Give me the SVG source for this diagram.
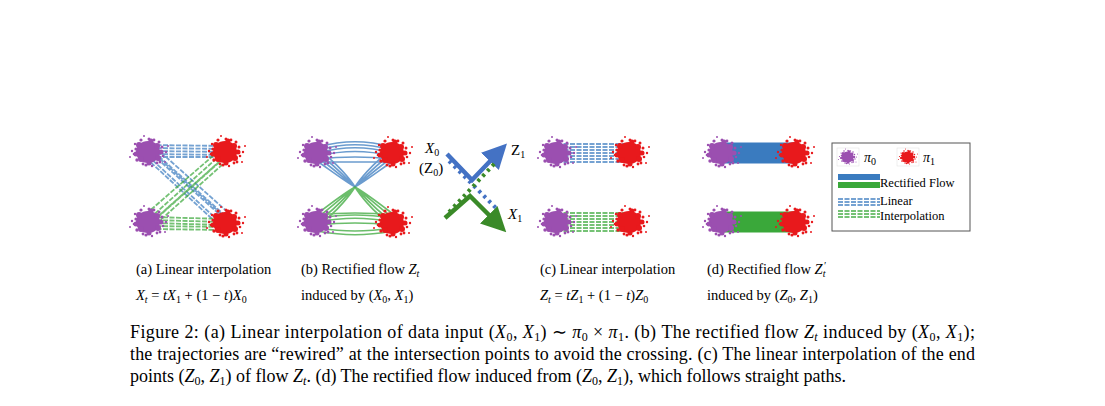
<svg xmlns="http://www.w3.org/2000/svg" width="1105" height="406" viewBox="0 0 1105 406">
<style>
text{font-family:"Liberation Serif","Times New Roman",serif;fill:#000}
.cap{font-size:14.5px}
.fig{font-size:18px}
.b{stroke:#3a7bbf;fill:none}
.g{stroke:#3aa83a;fill:none}
.bd{stroke:#3a7bbf;fill:none;stroke-dasharray:5 1.5;stroke-width:1.8;opacity:.7}
.gd{stroke:#3aa83a;fill:none;stroke-dasharray:5 1.5;stroke-width:1.8;opacity:.7}
</style>
<defs>
<g id="dots">
<ellipse cx="-1" cy="0" rx="12" ry="11"/>
<circle cx="-13" cy="-3" r="1.6"/><circle cx="-15" cy="2" r="1.3"/><circle cx="13" cy="-5" r="1.5"/><circle cx="14" cy="4" r="1.3"/>
<circle cx="-8" cy="-12" r="1.6"/><circle cx="5" cy="-12" r="1.4"/><circle cx="-3" cy="13" r="1.6"/><circle cx="8" cy="11" r="1.4"/>
<circle cx="-12" cy="8" r="1.7"/><circle cx="11" cy="10" r="1.4"/><circle cx="-17" cy="-1" r="1.2"/><circle cx="17" cy="0" r="1.2"/>
<circle cx="0" cy="-13" r="1.5"/><circle cx="-6" cy="12" r="1.4"/><circle cx="3" cy="14" r="1.2"/><circle cx="-14" cy="-8" r="1.2"/>
<circle cx="10" cy="-10" r="1.5"/><circle cx="-10" cy="-7" r="3"/><circle cx="9" cy="6" r="3"/><circle cx="-8" cy="7" r="3"/><circle cx="8" cy="-6" r="3"/>
<circle cx="12" cy="0" r="2.5"/><circle cx="-13" cy="2" r="2.5"/><circle cx="0" cy="11" r="2.5"/><circle cx="2" cy="-11" r="2.5"/>
<circle cx="-19" cy="5" r="1"/><circle cx="19" cy="-6" r="1"/><circle cx="16" cy="10" r="1"/><circle cx="-5" cy="-16" r="1"/>
</g>
<g id="p"><use href="#dots" fill="#9b4fb0"/></g>
<g id="r"><use href="#dots" fill="#e8191c"/></g>
<marker id="ab" viewBox="0 0 10 10" refX="3" refY="5" markerWidth="5.5" markerHeight="5.5" orient="auto"><path d="M0,0L10,5L0,10z" fill="#4472c4"/></marker>
<marker id="ag" viewBox="0 0 10 10" refX="3" refY="5" markerWidth="5.5" markerHeight="5.5" orient="auto"><path d="M0,0L10,5L0,10z" fill="#3a8a28"/></marker>
</defs>

<g id="connectors">
<g class="bd">
<path d="M150,145L226,146M150,148L226,149M150,151L226,152M150,154L226,155M150,157L226,157"/>
<path d="M150,150L226,218M152,154L228,222M148,156L224,226M154,152L230,220M146,158L222,228M156,148L232,216"/>
</g>
<g class="gd">
<path d="M150,218L226,150M152,222L228,154M148,226L224,158M154,220L230,152M146,214L222,148M156,224L232,156"/>
<path d="M150,217L226,219M150,220L226,222M150,223L226,225M150,226L226,227M150,229L226,230"/>
</g>
<g class="b" stroke-width="1.6" opacity="0.75">
<path d="M317,147C345,140 365,140 393,147M317,150C345,143 365,143 393,150M317,153C345,146 365,146 393,153M317,156C345,150 365,150 393,156M317,159C345,156 365,156 393,159M317,162C345,162 365,162 393,162"/>
<path d="M317,153C335,165 350,182 355,187C360,182 375,165 393,153M317,157C333,168 348,182 355,187C362,182 377,168 393,157M317,149C338,163 352,182 355,187C358,182 372,163 393,149M317,161C330,170 346,182 355,187C364,182 380,170 393,161"/>
</g>
<g class="g" stroke-width="1.6" opacity="0.75">
<path d="M317,215C345,212 365,212 393,215M317,218C345,214 365,214 393,218M317,222C345,217 365,217 393,222M317,225C345,222 365,222 393,225M317,228C345,232 365,232 393,228M317,231C345,236 365,236 393,231"/>
<path d="M317,222C335,210 350,192 355,187C360,192 375,210 393,222M317,218C333,206 348,192 355,187C362,192 377,206 393,218M317,226C338,212 352,192 355,187C358,192 372,212 393,226M317,214C330,204 346,192 355,187C364,192 380,204 393,214"/>
</g>
<g class="bd"><path d="M557,144H630M557,147H630M557,150H630M557,153H630M557,156H630M557,159H630M557,162H630"/></g>
<g class="gd"><path d="M557,213H630M557,216H630M557,219H630M557,222H630M557,225H630M557,228H630M557,231H630"/></g>
<g class="b" stroke-width="3"><path d="M722,144H795M722,147H795M722,150H795M722,153H795M722,156H795M722,159H795M722,162H795"/></g>
<g class="g" stroke-width="3"><path d="M722,213H795M722,216H795M722,219H795M722,222H795M722,225H795M722,228H795M722,231H795"/></g>
<path d="M447,154L472,180L495,156" stroke="#4472c4" stroke-width="4.5" fill="none" marker-end="url(#ab)"/>
<path d="M445,218L470,196L494,220" stroke="#3a8a28" stroke-width="4.5" fill="none" marker-end="url(#ag)"/>
<path d="M449,161L498,210" stroke="#4472c4" stroke-width="4" stroke-dasharray="3 4" fill="none"/>
<path d="M449,212L496,162" stroke="#3a8a28" stroke-width="4" stroke-dasharray="3 4" fill="none"/>
</g>

<g id="clouds">
<use href="#p" x="149" y="152"/><use href="#r" x="226" y="152"/><use href="#p" x="149" y="222"/><use href="#r" x="226" y="223"/>
<use href="#p" x="317" y="153"/><use href="#r" x="393" y="153"/><use href="#p" x="317" y="222"/><use href="#r" x="393" y="223"/>
<use href="#p" x="557" y="153"/><use href="#r" x="630" y="153"/><use href="#p" x="557" y="222"/><use href="#r" x="630" y="222"/>
<use href="#p" x="722" y="153"/><use href="#r" x="795" y="153"/><use href="#p" x="722" y="222"/><use href="#r" x="795" y="222"/>
</g>

<g id="cross-labels" font-size="15">
<text x="425" y="153" font-style="italic">X<tspan font-size="10" dy="3" font-style="normal">0</tspan></text>
<text x="419" y="173">(Z<tspan font-size="10" dy="3">0</tspan><tspan dy="-3">)</tspan></text>
<text x="511" y="155">Z<tspan font-size="10" dy="3">1</tspan></text>
<text x="508" y="219" font-style="italic">X<tspan font-size="10" dy="3" font-style="normal">1</tspan></text>
</g>

<g id="legend">
<rect x="832" y="143" width="138" height="88" fill="#fff" stroke="#555" stroke-width="1"/>
<rect x="837" y="148" width="22" height="18" fill="#fff" stroke="#ddd" stroke-width="0.5"/>
<g transform="translate(848,157) scale(0.5)"><use href="#p"/></g>
<text x="864" y="162" font-size="14" font-style="italic">π<tspan font-size="10" dy="3" font-style="normal">0</tspan></text>
<rect x="897" y="148" width="22" height="18" fill="#fff" stroke="#ddd" stroke-width="0.5"/>
<g transform="translate(908,157) scale(0.5)"><use href="#r"/></g>
<text x="923" y="162" font-size="14" font-style="italic">π<tspan font-size="10" dy="3" font-style="normal">1</tspan></text>
<rect x="838" y="174" width="42" height="6" fill="#3a7bbf"/>
<rect x="838" y="182" width="42" height="6" fill="#3aa83a"/>
<text x="880" y="187" font-size="12.5">Rectified Flow</text>
<g class="bd" opacity="1"><path d="M838,199H880M838,202H880M838,205H880"/></g>
<g class="gd" opacity="1"><path d="M838,211H880M838,214H880M838,217H880"/></g>
<text x="880" y="205" font-size="12.5">Linear</text>
<text x="880" y="220" font-size="12.5">Interpolation</text>
</g>

<g id="subcaptions" class="cap">
<text x="136" y="274">(a) Linear interpolation</text>
<text x="136" y="300" font-style="italic">X<tspan font-size="10" dy="3">t</tspan><tspan dy="-3" font-style="normal"> = </tspan>tX<tspan font-size="10" dy="3" font-style="normal">1</tspan><tspan dy="-3" font-style="normal"> + (1 − </tspan>t<tspan font-style="normal">)</tspan>X<tspan font-size="10" dy="3" font-style="normal">0</tspan></text>
<text x="301" y="274">(b) Rectified flow <tspan font-style="italic">Z</tspan><tspan font-size="10" dy="3" font-style="italic">t</tspan></text>
<text x="301" y="300">induced by (<tspan font-style="italic">X</tspan><tspan font-size="10" dy="3">0</tspan><tspan dy="-3">, </tspan><tspan font-style="italic">X</tspan><tspan font-size="10" dy="3">1</tspan><tspan dy="-3">)</tspan></text>
<text x="540" y="274">(c) Linear interpolation</text>
<text x="540" y="300" font-style="italic">Z<tspan font-size="10" dy="3">t</tspan><tspan dy="-3" font-style="normal"> = </tspan>tZ<tspan font-size="10" dy="3" font-style="normal">1</tspan><tspan dy="-3" font-style="normal"> + (1 − </tspan>t<tspan font-style="normal">)</tspan>Z<tspan font-size="10" dy="3" font-style="normal">0</tspan></text>
<text x="707" y="274">(d) Rectified flow <tspan font-style="italic">Z</tspan><tspan font-size="10" dx="1" dy="-5" font-style="italic">′</tspan><tspan font-size="10" dx="-3" dy="8" font-style="italic">t</tspan></text>
<text x="707" y="300">induced by (<tspan font-style="italic">Z</tspan><tspan font-size="10" dy="3">0</tspan><tspan dy="-3">, </tspan><tspan font-style="italic">Z</tspan><tspan font-size="10" dy="3">1</tspan><tspan dy="-3">)</tspan></text>
</g>

<g id="caption" class="fig">
<text x="130" y="338" textLength="845" lengthAdjust="spacing">Figure 2: (a) Linear interpolation of data input (<tspan font-style="italic">X</tspan><tspan font-size="12" dy="3">0</tspan><tspan dy="-3">, </tspan><tspan font-style="italic">X</tspan><tspan font-size="12" dy="3">1</tspan><tspan dy="-3">) ∼ </tspan><tspan font-style="italic">π</tspan><tspan font-size="12" dy="3">0</tspan><tspan dy="-3"> × </tspan><tspan font-style="italic">π</tspan><tspan font-size="12" dy="3">1</tspan><tspan dy="-3">. (b) The rectified flow </tspan><tspan font-style="italic">Z</tspan><tspan font-size="12" dy="3" font-style="italic">t</tspan><tspan dy="-3"> induced by (</tspan><tspan font-style="italic">X</tspan><tspan font-size="12" dy="3">0</tspan><tspan dy="-3">, </tspan><tspan font-style="italic">X</tspan><tspan font-size="12" dy="3">1</tspan><tspan dy="-3">);</tspan></text>
<text x="130" y="360" textLength="845" lengthAdjust="spacing">the trajectories are “rewired” at the intersection points to avoid the crossing. (c) The linear interpolation of the end</text>
<text x="130" y="382">points (<tspan font-style="italic">Z</tspan><tspan font-size="12" dy="3">0</tspan><tspan dy="-3">, </tspan><tspan font-style="italic">Z</tspan><tspan font-size="12" dy="3">1</tspan><tspan dy="-3">) of flow </tspan><tspan font-style="italic">Z</tspan><tspan font-size="12" dy="3" font-style="italic">t</tspan><tspan dy="-3">. (d) The rectified flow induced from (</tspan><tspan font-style="italic">Z</tspan><tspan font-size="12" dy="3">0</tspan><tspan dy="-3">, </tspan><tspan font-style="italic">Z</tspan><tspan font-size="12" dy="3">1</tspan><tspan dy="-3">), which follows straight paths.</tspan></text>
</g>
</svg>
